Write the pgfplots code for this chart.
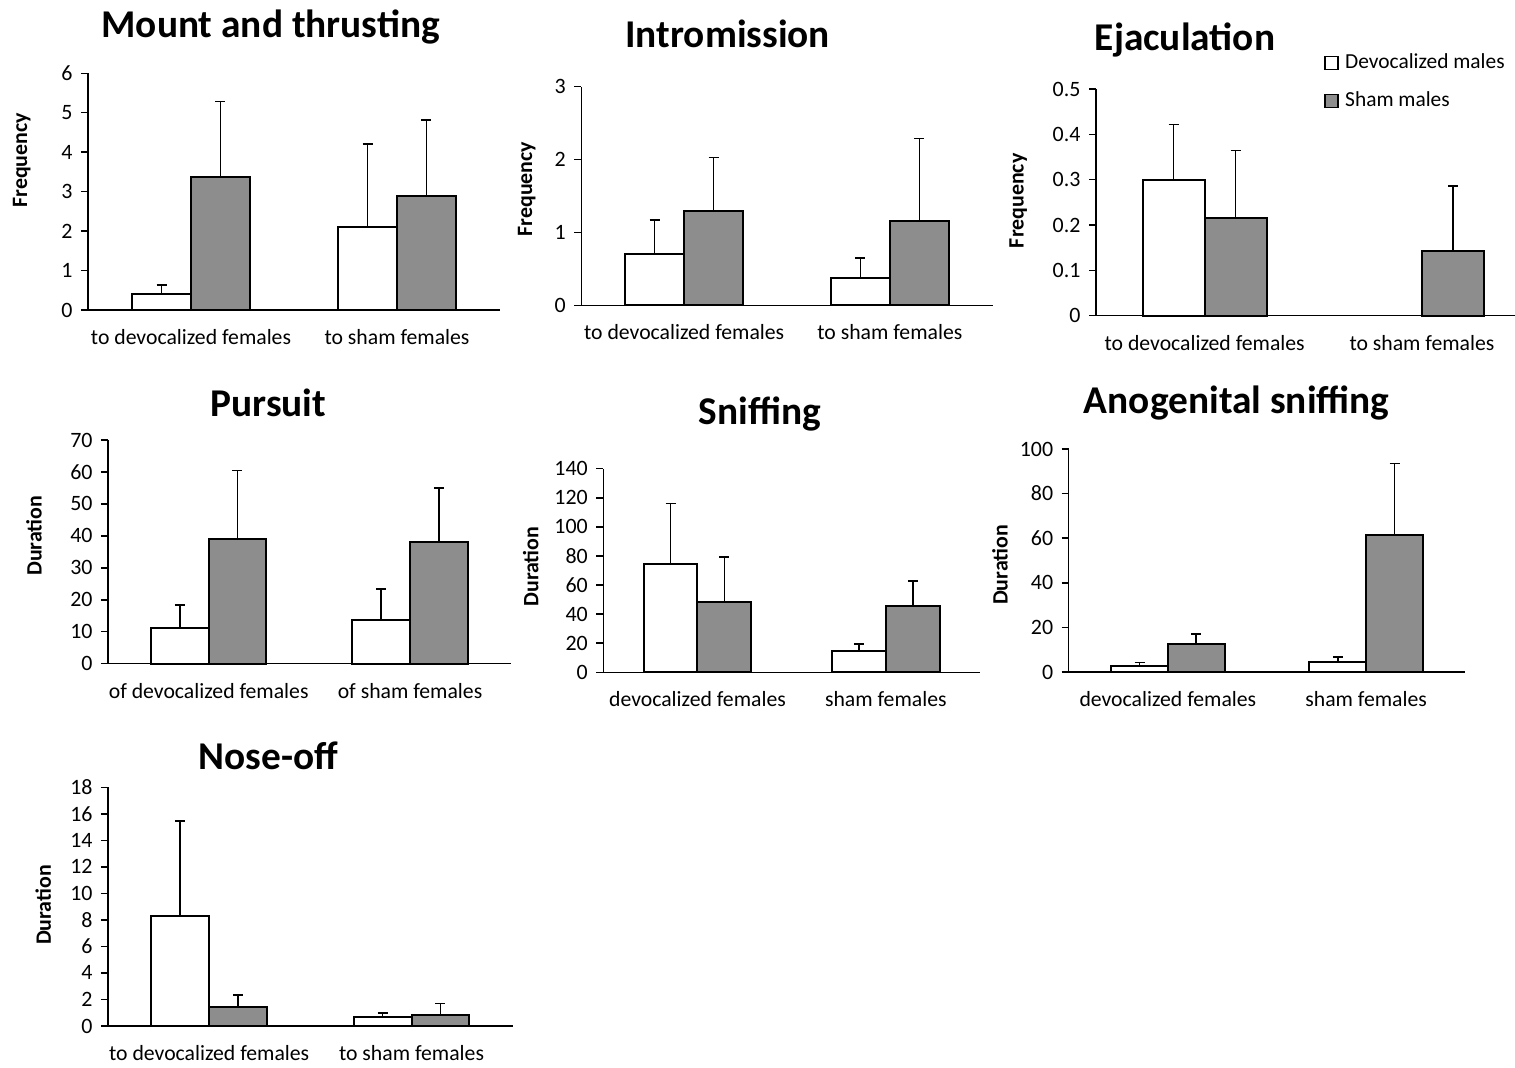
\documentclass[border=0pt]{standalone}
\usepackage{pgfplots}
\pgfplotsset{compat=1.18}
\usepackage{fontspec}
\setmainfont{Carlito}
\definecolor{barGray}{RGB}{141,141,141}
\pgfplotsset{
 panel/.style={
  scale only axis, axis x line=bottom, axis y line=left,
  axis line style={-, line width=1.5bp, black},
  xmin=-0.5, xmax=1.5, ymin=0, xtick={0,1},
  x tick style={draw=none},
  y tick style={line width=1.5bp, black},
  tick align=outside, major tick length=7bp,
  ybar=0pt, bar width=0.286, clip=false,
  xticklabel style={font=\fontsize{21.8}{26}\selectfont, yshift=-9bp},
  yticklabel style={font=\fontsize{22}{26}\selectfont, xshift=-5bp},
  /pgf/number format/assume math mode=true,
  error bars/y dir=plus, error bars/y explicit,
  error bars/error mark=|,
  error bars/error bar style={line width=1.5bp, black},
  error bars/error mark options={line width=1.5bp, mark size=5bp, black},
 },
 ylab/.style 2 args={every axis y label/.style={at={(axis description cs:0,#1)}, xshift=#2, rotate=90, anchor=center, font=\bfseries\fontsize{22}{26}\selectfont}},
 wbar/.style={fill=white, draw=black, line width=2bp, bar shift=-0.143},
 gbar/.style={fill=barGray, draw=black, line width=2bp, bar shift=0.143},
}
\begin{document}
\begin{tikzpicture}
\path[use as bounding box] (0bp,0bp) rectangle (1515bp,1068bp);
\tikzset{ttl/.style={anchor=base, font=\bfseries\fontsize{39.5}{47}\selectfont}}
% Titles
\node[ttl] at (270.7bp,1030.7bp) {Mount and thrusting};
\node[ttl] at (727.7bp,1020bp) {Intromission};
\node[ttl] at (1185bp,1017.3bp) {Ejaculation};
\node[ttl] at (268.3bp,651.3bp) {Pursuit};
\node[ttl] at (760bp,643bp) {Sniffing};
\node[ttl] at (1236.7bp,654.7bp) {Anogenital sniffing};
\node[ttl] at (268.3bp,298bp) {Nose-off};

% Panel 1: Mount and thrusting
\begin{axis}[panel, at={(88bp,758bp)}, anchor=south west, width=412bp, height=236.7bp,
  ymax=6, ytick={0,1,2,3,4,5,6},
  xticklabels={to devocalized females, to sham females},
  ylab={0.633}{-66.3bp}, ylabel={Frequency}]
\addplot[wbar] coordinates {(0,0.40) +- (0,0.23) (1,2.11) +- (0,2.10)};
\addplot[gbar] coordinates {(0,3.36) +- (0,1.93) (1,2.89) +- (0,1.93)};
\end{axis}

% Panel 2: Intromission
\begin{axis}[panel, at={(581.3bp,762.7bp)}, anchor=south west, width=411.4bp, height=218.6bp,
  ymax=3, ytick={0,1,2,3},
  xticklabels={to devocalized females, to sham females},
  ylab={0.532}{-54.6bp}, ylabel={Frequency}]
\addplot[wbar] coordinates {(0,0.70) +- (0,0.47) (1,0.37) +- (0,0.28)};
\addplot[gbar] coordinates {(0,1.29) +- (0,0.74) (1,1.15) +- (0,1.14)};
\end{axis}

% Panel 3: Ejaculation
\begin{axis}[panel, at={(1096bp,752.3bp)}, anchor=south west, width=434.6bp, height=226.7bp,
  ymax=0.5, ytick={0,0.1,0.2,0.3,0.4,0.5},
  xticklabels={to devocalized females, to sham females},
  ylab={0.507}{-77.7bp}, ylabel={Frequency},
  legend style={at={(axis description cs:0.525,1.165)}, anchor=north west, draw=none, fill=none,
    font=\fontsize{21.5}{26}\selectfont, row sep=15bp, column sep=4bp, inner sep=0pt,
    nodes={inner sep=2.5bp, text height=14bp, text depth=4bp}},
  legend cell align=left,
  legend image code/.code={\draw[#1, line width=1.3bp] (0bp,-6.5bp) rectangle (13bp,6.5bp);}]
\addplot[wbar] coordinates {(0,0.30) +- (0,0.122)};
\addlegendentry{Devocalized males}
\addplot[gbar] coordinates {(0,0.215) +- (0,0.149) (1,0.143) +- (0,0.143)};
\addlegendentry{Sham males}
\end{axis}

% Panel 4: Pursuit
\begin{axis}[panel, at={(108bp,404.3bp)}, anchor=south west, width=402.7bp, height=223.7bp,
  ymax=70, ytick={0,10,...,70},
  xticklabels={of devocalized females, of sham females},
  ylab={0.572}{-74bp}, ylabel={Duration}]
\addplot[wbar] coordinates {(0,11.2) +- (0,7.1) (1,13.6) +- (0,9.8)};
\addplot[gbar] coordinates {(0,39.1) +- (0,21.4) (1,38.0) +- (0,17.0)};
\end{axis}

% Panel 5: Sniffing
\begin{axis}[panel, at={(603.3bp,395.7bp)}, anchor=south west, width=376.7bp, height=203.6bp,
  ymax=140, ytick={0,20,...,140},
  xticklabels={devocalized females, sham females},
  ylab={0.519}{-72.6bp}, ylabel={Duration}]
\addplot[wbar] coordinates {(0,74.7) +- (0,41.2) (1,14.4) +- (0,5.1)};
\addplot[gbar] coordinates {(0,48.1) +- (0,31.2) (1,45.8) +- (0,17.0)};
\end{axis}

% Panel 6: Anogenital sniffing
\begin{axis}[panel, at={(1068.7bp,396bp)}, anchor=south west, width=396.6bp, height=223bp,
  ymax=100, ytick={0,20,...,100},
  xticklabels={devocalized females, sham females},
  ylab={0.48}{-68.7bp}, ylabel={Duration}]
\addplot[wbar] coordinates {(0,2.8) +- (0,1.4) (1,4.3) +- (0,2.4)};
\addplot[gbar] coordinates {(0,12.6) +- (0,4.4) (1,61.4) +- (0,32.0)};
\end{axis}

% Panel 7: Nose-off
\begin{axis}[panel, at={(108bp,42bp)}, anchor=south west, width=404.7bp, height=238.7bp,
  ymax=18, ytick={0,2,...,18},
  xticklabels={to devocalized females, to sham females},
  ylab={0.507}{-64.7bp}, ylabel={Duration}]
\addplot[wbar] coordinates {(0,8.29) +- (0,7.16) (1,0.65) +- (0,0.33)};
\addplot[gbar] coordinates {(0,1.43) +- (0,0.91) (1,0.80) +- (0,0.88)};
\end{axis}
\end{tikzpicture}
\end{document}
